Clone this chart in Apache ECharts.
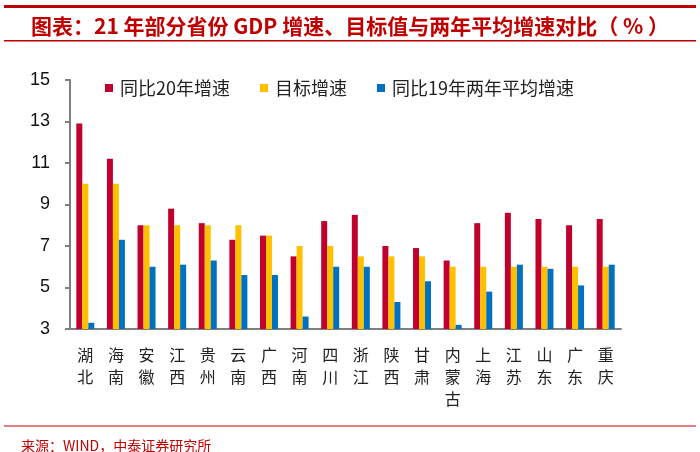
<!DOCTYPE html>
<html>
<head>
<meta charset="utf-8">
<script src="https://cdn.jsdelivr.net/npm/echarts@6/dist/echarts.min.js"></script>
<style>
  html, body { margin: 0; padding: 0; background: #fff; }
  #chart { width: 700px; height: 452px; }
</style>
</head>
<body>
<div id="chart"></div>
<script>
// 省份
var provinces = ['湖北', '海南', '安徽', '江西', '贵州', '云南', '广西', '河南', '四川',
  '浙江', '陕西', '甘肃', '内蒙古', '上海', '江苏', '山东', '广东', '重庆'];
// 同比20年增速
var growth20 = [12.9, 11.2, 8.0, 8.8, 8.1, 7.3, 7.5, 6.5, 8.2, 8.5, 7.0, 6.9, 6.3, 8.1, 8.6, 8.3, 8.0, 8.3];
// 目标增速
var target = [10.0, 10.0, 8.0, 8.0, 8.0, 8.0, 7.5, 7.0, 7.0, 6.5, 6.5, 6.5, 6.0, 6.0, 6.0, 6.0, 6.0, 6.0];
// 同比19年两年平均增速
var avg19 = [3.3, 7.3, 6.0, 6.1, 6.3, 5.6, 5.6, 3.6, 6.0, 6.0, 4.3, 5.3, 3.2, 4.8, 6.1, 5.9, 5.1, 6.1];

var seriesNames = ['同比20年增速', '目标增速', '同比19年两年平均增速'];
var colors = ['#c0002d', '#ffc000', '#0070c0'];
var yMin = 3, yMax = 15, yStep = 2;

var cjk = "'Noto Sans CJK SC', 'Noto Sans', sans-serif";
var axisGray = '#7f7f7f';

var chart = echarts.init(document.getElementById('chart'));

function barSeries(i, data) {
  return {
    name: seriesNames[i],
    type: 'bar',
    barWidth: 6,
    barGap: '0%',
    itemStyle: { color: colors[i] },
    data: data
  };
}

chart.setOption({
  animation: false,
  color: colors,
  title: [{
    text: '图表：21 年部分省份 GDP 增速、目标值与两年平均增速对比（ % ）',
    left: 26,
    top: 11,
    textStyle: { color: '#c00000', fontSize: 21, fontWeight: 'bold', fontFamily: cjk }
  }, {
    text: '来源：WIND，中泰证券研究所',
    left: 16,
    top: 434,
    textStyle: { color: '#c00000', fontSize: 14, fontWeight: 'normal', fontFamily: cjk }
  }],
  graphic: [
    { type: 'rect', shape: { x: 4, y: 5, width: 692, height: 3 }, style: { fill: '#c00000' } },
    { type: 'rect', shape: { x: 4, y: 40, width: 692, height: 1.5 }, style: { fill: '#c00000' } },
    { type: 'rect', shape: { x: 4, y: 425.5, width: 692, height: 1 }, style: { fill: '#c00000' } }
  ],
  legend: {
    data: seriesNames,
    left: 100,
    top: 74,
    itemWidth: 8,
    itemHeight: 8,
    itemGap: 30,
    icon: 'rect',
    textStyle: { fontSize: 18, color: '#222', fontFamily: cjk, padding: [0, 0, 0, 2] }
  },
  grid: { left: 70, right: 79, top: 80, bottom: 123 },
  xAxis: {
    type: 'category',
    data: provinces,
    axisLine: { lineStyle: { color: axisGray, width: 2 } },
    axisTick: { length: 5, lineStyle: { color: axisGray, width: 2 } },
    axisLabel: {
      interval: 0,
      margin: 15,
      fontSize: 16,
      lineHeight: 22,
      color: '#222',
      fontFamily: cjk,
      formatter: function (v) { return v.split('').join('\n'); }
    }
  },
  yAxis: {
    type: 'value',
    min: yMin,
    max: yMax,
    interval: yStep,
    splitLine: { show: false },
    axisLine: { show: true, lineStyle: { color: axisGray, width: 2 } },
    axisTick: { show: true, length: 5, lineStyle: { color: axisGray, width: 2 } },
    axisLabel: { fontSize: 18, color: '#111', margin: 20, fontFamily: 'Liberation Sans, Arial, sans-serif' }
  },
  series: [
    barSeries(0, growth20),
    barSeries(1, target),
    barSeries(2, avg19)
  ]
});
</script>
</body>
</html>
